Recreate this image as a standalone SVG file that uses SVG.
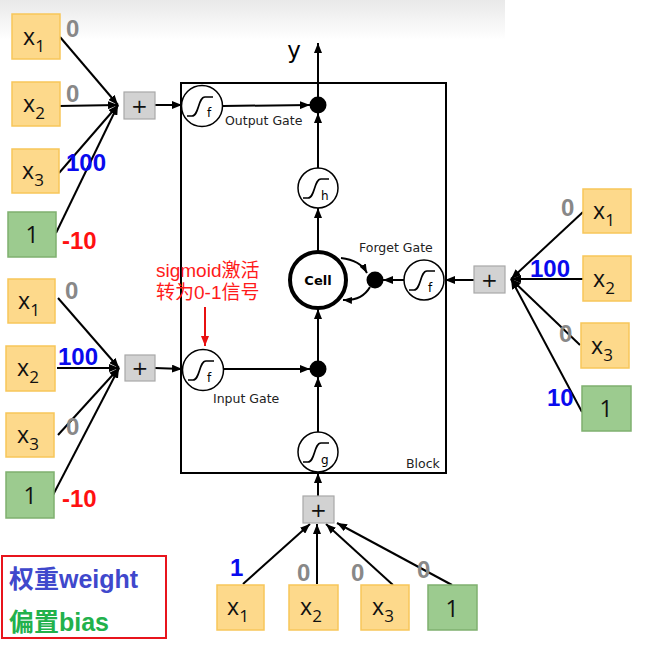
<svg xmlns="http://www.w3.org/2000/svg" xmlns:xlink="http://www.w3.org/1999/xlink" width="655" height="645" viewBox="0 0 655 645">
<defs>
<linearGradient id="topg" x1="0" y1="0" x2="0" y2="1">
<stop offset="0" stop-color="#e9e9e9"/>
<stop offset="1" stop-color="#ffffff"/>
</linearGradient>
<marker id="ah" markerWidth="10" markerHeight="8" refX="10" refY="4" orient="auto" markerUnits="userSpaceOnUse">
<path d="M0,0 L10,4 L0,8 Z" fill="#000"/>
</marker>
<marker id="ahs" markerWidth="9" markerHeight="7" refX="9" refY="3.5" orient="auto" markerUnits="userSpaceOnUse">
<path d="M0,0 L9,3.5 L0,7 Z" fill="#000"/>
</marker>
<marker id="ahr" markerWidth="10" markerHeight="8" refX="10" refY="4" orient="auto" markerUnits="userSpaceOnUse">
<path d="M0,0 L10,4 L0,8 Z" fill="#e81010"/>
</marker>
<path id="sig" d="M-14,10 L-9,10 C-2,10 -3,-9 4,-9 L12,-9" fill="none" stroke="#000" stroke-width="1.7"/>
</defs>
<style>
.ob{fill:#fdd98b;stroke:#f7c65a;stroke-width:1.5}
.gb{fill:#9ccb8f;stroke:#7fb06f;stroke-width:1.5}
.pb{fill:#d2d2d2;stroke:#a8a8a8;stroke-width:1.2}
.bt{font-family:"Open Sans","Liberation Sans",sans-serif;font-size:23px;fill:#111;text-anchor:middle}
.pt{font-family:"DejaVu Sans","Liberation Sans",sans-serif;font-size:20px;fill:#111;text-anchor:middle}
.gc{fill:#fff;stroke:#000;stroke-width:1.5}
.sub{font-family:"DejaVu Sans","Liberation Sans",sans-serif;font-size:12px;fill:#000}
.gl{font-family:"DejaVu Sans","Liberation Sans",sans-serif;font-size:12.5px;fill:#222}
.w{font-family:"Liberation Sans","Arial",sans-serif;font-size:24px;font-weight:bold}
.gr{fill:#888}
.bl{fill:#0a0aee}
.rd{fill:#ff1111}
.cn line,.cn path{stroke:#000;stroke-width:2;fill:none}
.dot{fill:#000}
</style>
<rect x="0" y="0" width="505" height="40" fill="url(#topg)"/>

<g id="block">
<rect x="181" y="83" width="265" height="390" fill="none" stroke="#000" stroke-width="2"/>
<text x="406" y="468" class="gl" font-size="12">Block</text>
</g>

<g class="cn" id="connectors">
<line x1="60" y1="37" x2="118" y2="105" marker-end="url(#ah)"/>
<line x1="59" y1="106" x2="118" y2="105" marker-end="url(#ah)"/>
<line x1="59" y1="173" x2="118" y2="105" marker-end="url(#ah)"/>
<line x1="56" y1="233" x2="118" y2="105" marker-end="url(#ah)"/>
<line x1="155" y1="105" x2="182" y2="105" marker-end="url(#ah)"/>
<line x1="58" y1="298" x2="119" y2="368" marker-end="url(#ah)"/>
<line x1="57" y1="368" x2="119" y2="368" marker-end="url(#ah)"/>
<line x1="58" y1="435" x2="119" y2="368" marker-end="url(#ah)"/>
<line x1="53" y1="495" x2="119" y2="368" marker-end="url(#ah)"/>
<line x1="155" y1="368" x2="182" y2="369" marker-end="url(#ah)"/>
<line x1="583" y1="212" x2="511" y2="279" marker-end="url(#ah)"/>
<line x1="583" y1="279" x2="511" y2="279" marker-end="url(#ah)"/>
<line x1="580" y1="345" x2="511" y2="279" marker-end="url(#ah)"/>
<line x1="582" y1="412" x2="511" y2="279" marker-end="url(#ah)"/>
<line x1="474" y1="280" x2="445" y2="280" marker-end="url(#ah)"/>
<line x1="243" y1="584" x2="310" y2="524" marker-end="url(#ah)"/>
<line x1="317" y1="584" x2="317" y2="524" marker-end="url(#ah)"/>
<line x1="393" y1="585" x2="326" y2="524" marker-end="url(#ah)"/>
<line x1="452" y1="585" x2="337" y2="523" marker-end="url(#ah)"/>
<line x1="318" y1="496" x2="318" y2="473" marker-end="url(#ah)"/>
<line x1="223" y1="106" x2="310" y2="105" marker-end="url(#ah)"/>
<line x1="318" y1="97" x2="318" y2="43" marker-end="url(#ah)"/>
<line x1="318" y1="168" x2="318" y2="113" marker-end="url(#ah)"/>
<line x1="318" y1="251" x2="318" y2="208" marker-end="url(#ah)"/>
<line x1="223" y1="369" x2="310" y2="369" marker-end="url(#ah)"/>
<line x1="318" y1="361" x2="318" y2="309" marker-end="url(#ah)"/>
<line x1="318" y1="432" x2="318" y2="377" marker-end="url(#ah)"/>
<line x1="404" y1="280" x2="383" y2="280" marker-end="url(#ah)"/>
<path d="M341,258 Q360,260 367,273" stroke-width="1.6" marker-end="url(#ahs)"/>
<path d="M370,287 Q362,301 343,300" stroke-width="1.6" marker-end="url(#ahs)"/>
</g>

<g id="dots">
<circle cx="318" cy="105" r="8.5" class="dot"/>
<circle cx="318" cy="369" r="8.5" class="dot"/>
<circle cx="375" cy="280" r="8.5" class="dot"/>
</g>

<g id="output-gate">
<circle cx="202" cy="106" r="20.5" class="gc"/>
<use xlink:href="#sig" href="#sig" transform="translate(201,106)"/>
<text x="207" y="117" class="sub">f</text>
<text x="225" y="125" class="gl">Output Gate</text>
</g>
<g id="h-node">
<circle cx="318" cy="188" r="20" class="gc"/>
<use xlink:href="#sig" href="#sig" transform="translate(317,188)"/>
<text x="321" y="200" class="sub">h</text>
</g>
<g id="cell">
<circle cx="318" cy="280" r="28" fill="#fff" stroke="#000" stroke-width="4"/>
<text x="318" y="285" font-family="DejaVu Sans, Liberation Sans, sans-serif" font-size="13" font-weight="bold" text-anchor="middle">Cell</text>
</g>
<g id="forget-gate">
<circle cx="424" cy="280" r="20" class="gc"/>
<use xlink:href="#sig" href="#sig" transform="translate(423,280)"/>
<text x="428" y="292" class="sub">f</text>
<text x="359" y="252" class="gl">Forget Gate</text>
</g>
<g id="input-gate">
<circle cx="203" cy="370" r="20.5" class="gc"/>
<use xlink:href="#sig" href="#sig" transform="translate(202,370)"/>
<text x="207" y="382" class="sub">f</text>
<text x="213" y="403" class="gl">Input Gate</text>
</g>
<g id="g-node">
<circle cx="318" cy="452" r="20" class="gc"/>
<use xlink:href="#sig" href="#sig" transform="translate(317,452)"/>
<text x="321" y="464" class="sub">g</text>
</g>
<g id="y-label">
<text x="294" y="58" font-family="DejaVu Sans, Liberation Sans, sans-serif" font-size="23" text-anchor="middle">y</text>
</g>

<g id="annotation">
<text x="156" y="277" font-family="Liberation Sans, Noto Sans CJK SC, sans-serif" font-size="19" fill="#ff1a1a">sigmoid激活</text>
<text x="156" y="299" font-family="Liberation Sans, Noto Sans CJK SC, sans-serif" font-size="19" fill="#ff1a1a">转为0-1信号</text>
<line x1="205" y1="307" x2="205" y2="346" stroke="#e81010" stroke-width="2" marker-end="url(#ahr)"/>
</g>

<g id="plus-out"><rect x="124" y="92" width="31" height="27" class="pb"/><text x="139.5" y="113" class="pt">+</text></g>
<g id="plus-in"><rect x="125" y="355" width="30" height="26" class="pb"/><text x="140" y="375" class="pt">+</text></g>
<g id="plus-forget"><rect x="474" y="266" width="31" height="27" class="pb"/><text x="489.5" y="287" class="pt">+</text></g>
<g id="plus-g"><rect x="303" y="496" width="31" height="27" class="pb"/><text x="318.5" y="517" class="pt">+</text></g>

<g id="tl-x1"><rect x="12" y="14" width="48" height="45" class="ob"/><text x="34" y="45" class="bt">x<tspan font-size="17" dy="7">1</tspan></text></g>
<g id="tl-x2"><rect x="12" y="82" width="48" height="44" class="ob"/><text x="34" y="112" class="bt">x<tspan font-size="17" dy="7">2</tspan></text></g>
<g id="tl-x3"><rect x="12" y="149" width="47" height="44" class="ob"/><text x="33" y="179" class="bt">x<tspan font-size="17" dy="7">3</tspan></text></g>
<g id="tl-b"><rect x="8" y="212" width="48" height="45" class="gb"/><text x="32" y="243" class="bt">1</text></g>
<text x="66" y="37" class="w gr">0</text>
<text x="66" y="102" class="w gr">0</text>
<text x="66" y="171" class="w bl">100</text>
<text x="62" y="249" class="w rd">-10</text>

<g id="ll-x1"><rect x="8" y="279" width="47" height="44" class="ob"/><text x="29" y="309" class="bt">x<tspan font-size="17" dy="7">1</tspan></text></g>
<g id="ll-x2"><rect x="6" y="346" width="49" height="45" class="ob"/><text x="28" y="376" class="bt">x<tspan font-size="17" dy="7">2</tspan></text></g>
<g id="ll-x3"><rect x="6" y="413" width="48" height="44" class="ob"/><text x="28" y="443" class="bt">x<tspan font-size="17" dy="7">3</tspan></text></g>
<g id="ll-b"><rect x="6" y="472" width="48" height="46" class="gb"/><text x="30" y="504" class="bt">1</text></g>
<text x="65" y="299" class="w gr">0</text>
<text x="58" y="365" class="w bl">100</text>
<text x="66" y="435" class="w gr">0</text>
<text x="62" y="507" class="w rd">-10</text>

<g id="r-x1"><rect x="583" y="189" width="48" height="44" class="ob"/><text x="604" y="219" class="bt">x<tspan font-size="17" dy="7">1</tspan></text></g>
<g id="r-x2"><rect x="583" y="256" width="48" height="45" class="ob"/><text x="604" y="287" class="bt">x<tspan font-size="17" dy="7">2</tspan></text></g>
<g id="r-x3"><rect x="581" y="323" width="48" height="45" class="ob"/><text x="602" y="354" class="bt">x<tspan font-size="17" dy="7">3</tspan></text></g>
<g id="r-b"><rect x="582" y="386" width="49" height="45" class="gb"/><text x="606" y="417" class="bt">1</text></g>
<text x="561" y="216" class="w gr">0</text>
<text x="530" y="277" class="w bl">100</text>
<text x="559" y="342" class="w gr">0</text>
<text x="547" y="406" class="w bl">10</text>

<g id="b-x1"><rect x="217" y="585" width="47" height="45" class="ob"/><text x="238" y="615" class="bt">x<tspan font-size="17" dy="7">1</tspan></text></g>
<g id="b-x2"><rect x="289" y="585" width="49" height="45" class="ob"/><text x="311" y="615" class="bt">x<tspan font-size="17" dy="7">2</tspan></text></g>
<g id="b-x3"><rect x="361" y="585" width="48" height="45" class="ob"/><text x="383" y="615" class="bt">x<tspan font-size="17" dy="7">3</tspan></text></g>
<g id="b-b"><rect x="428" y="585" width="49" height="45" class="gb"/><text x="452" y="617" class="bt">1</text></g>
<text x="230" y="576" class="w bl">1</text>
<text x="297" y="581" class="w gr">0</text>
<text x="351" y="581" class="w gr">0</text>
<text x="417" y="578" class="w gr">0</text>

<g id="legend">
<rect x="2" y="556" width="164" height="82" fill="#fff" stroke="#e8141c" stroke-width="2"/>
<text x="9" y="588" font-family="Liberation Sans, Noto Sans CJK SC, sans-serif" font-size="25" font-weight="bold" fill="#3f48cc">权重weight</text>
<text x="9" y="631" font-family="Liberation Sans, Noto Sans CJK SC, sans-serif" font-size="25" font-weight="bold" fill="#22b14c">偏置bias</text>
</g>
</svg>
